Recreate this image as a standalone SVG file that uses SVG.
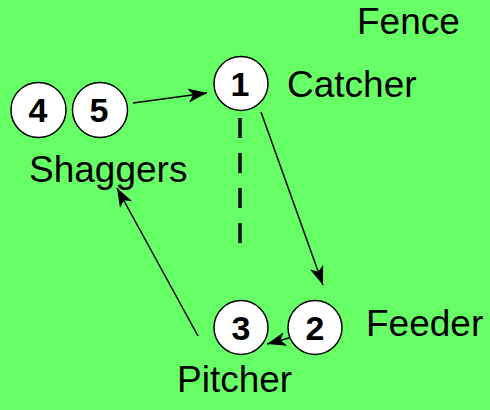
<svg xmlns="http://www.w3.org/2000/svg" width="490" height="410" viewBox="0 0 490 410">
<style>
.bg{fill:#66ff66}
.node circle{fill:#fff;stroke:#000;stroke-width:1.5}
.num{font-family:"Liberation Sans",Arial,sans-serif;font-weight:bold;font-size:34px;text-anchor:middle;fill:#000}
.lbl{font-family:"Liberation Sans",Arial,sans-serif;font-size:37px;fill:#000}
.edge{stroke:#000;stroke-width:1.5;fill:none}
</style>
<defs>
<marker id="ah" markerUnits="userSpaceOnUse" markerWidth="22" markerHeight="16" refX="19" refY="7" orient="auto">
<path d="M0,0 L19,7 L0,14 L5,7 z" fill="#000"/>
</marker>
</defs>
<rect class="bg" x="0" y="0" width="490" height="410"/>
<g id="connectors">
<line class="edge" x1="133" y1="103" x2="207" y2="93" marker-end="url(#ah)"/>
<line class="edge" x1="261" y1="112" x2="323" y2="285" marker-end="url(#ah)"/>
<line class="edge" x1="289" y1="338" x2="267" y2="344" marker-end="url(#ah)"/>
<line class="edge" x1="198" y1="336" x2="117" y2="188" marker-end="url(#ah)"/>
<line x1="240" y1="118" x2="240" y2="243" stroke="#000" stroke-width="3.5" stroke-dasharray="20 15"/>
</g>
<g id="node4" class="node"><circle cx="38.5" cy="110" r="27.5"/><text class="num" x="38" y="122">4</text></g>
<g id="node5" class="node"><circle cx="100" cy="110" r="27.5"/><text class="num" x="99" y="122">5</text></g>
<g id="node1" class="node"><circle cx="241" cy="83.5" r="27"/><text class="num" x="240" y="96">1</text></g>
<g id="node3" class="node"><circle cx="241" cy="327.5" r="27"/><text class="num" x="241" y="340">3</text></g>
<g id="node2" class="node"><circle cx="315" cy="327.5" r="27"/><text class="num" x="315" y="340">2</text></g>
<g id="labels">
<text class="lbl" x="357" y="34">Fence</text>
<text class="lbl" x="287" y="97">Catcher</text>
<text class="lbl" x="29" y="182">Shaggers</text>
<text class="lbl" x="366" y="336">Feeder</text>
<text class="lbl" x="177" y="392">Pitcher</text>
</g>
</svg>
